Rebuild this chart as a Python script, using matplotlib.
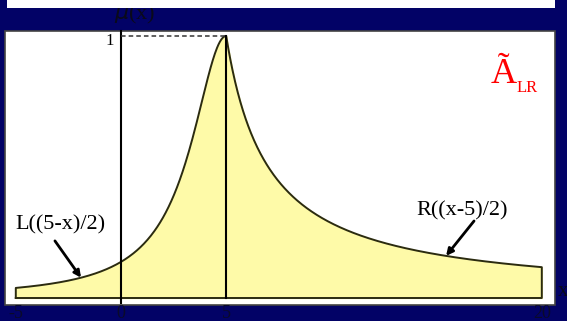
import matplotlib.pyplot as plt
from matplotlib.patches import Rectangle
import numpy as np

# fuzzy number parameters: peak m, left spread alpha, right spread beta
m = 5.0
alpha = 2.0
beta = 2.0
x_lo, x_hi = -5.0, 20.0

tick_vals = [-5, 0, 5, 20]
tick_labels = ["-5", "0", "5", "20"]


def L(u):
    return 1.0 / (1.0 + u ** 2)


def R(u):
    return 1.0 / (1.0 + u)


xl = np.linspace(x_lo, m, 300)
xr = np.linspace(m, x_hi, 600)
x = np.concatenate([xl, xr[1:]])
mu = np.concatenate([L((m - xl) / alpha), R((xr[1:] - m) / beta)])

W, H = 567, 321
navy = "#020266"
fig = plt.figure(figsize=(W / 100, H / 100), dpi=100, facecolor=navy)
plt.rcParams['font.family'] = ['Liberation Serif', 'DejaVu Serif']


def fx(px):
    return px / W


def fy(py):
    return 1 - py / H


# white strip at the top and the white plotting panel
fig.patches.append(Rectangle((fx(7), fy(8)), fx(548), 8 / H,
                             transform=fig.transFigure, facecolor="white",
                             edgecolor="none", zorder=5))
fig.patches.append(Rectangle((fx(5), fy(305)), fx(550), 274 / H,
                             transform=fig.transFigure, facecolor="white",
                             edgecolor="#444444", lw=1.2, zorder=-1))

ax = fig.add_axes([0, 0, 1, 1])
ax.set_facecolor("none")
ax.axis("off")
# map data to pixels: x=0 at px 121 (21.04 px/unit), y=0 at px 298, y=1 at px 36
sx, x0p = 21.04, 121.0
y0p, sy = 298.0, 262.0
ax.set_xlim((0 - x0p) / sx, (W - x0p) / sx)
ax.set_ylim((y0p - H) / sy, y0p / sy)

ax.fill_between(x, 0, mu, color="#fefaa8", zorder=1)
ax.plot(np.r_[x_lo, x, x_hi, x_lo], np.r_[0, mu, 0, 0], color="#2b2b10", lw=1.4, zorder=2)

# vertical axis, peak line and dashed level line
ax.plot([0, 0], [(y0p - 303) / sy, (y0p - 31) / sy], color="black", lw=1.5, zorder=3)
ax.plot([m, m], [0, 1], color="black", lw=1.5, zorder=3)
ax.plot([0, m], [1, 1], color="#333333", lw=1.1, ls=(0, (3, 2)), zorder=3)

ax.text(-0.35, (y0p - 41) / sy, "1", ha="right", va="center", fontsize=12, color="black")

for v, t in zip(tick_vals, tick_labels):
    ax.text(v, (y0p - 305) / sy, t, ha="center", va="top", fontsize=13, color="#0a0a2a")
ax.text((563 - x0p) / sx, (y0p - 292) / sy, "x", ha="center", va="center",
        fontsize=15, color="#0a0a1a")
ax.text((135 - x0p) / sx, (y0p - 14) / sy, r"$\mu$(x)", ha="center", va="center",
        fontsize=16, color="#0a0a1a", zorder=1)

ax.text((491 - x0p) / sx, (y0p - 83) / sy, "Ã", ha="left", va="baseline",
        fontsize=26, color="red")
ax.text((517 - x0p) / sx, (y0p - 92) / sy, "LR", ha="left", va="baseline",
        fontsize=12, color="red")

# branch labels with pointers onto the curve
arrow = dict(arrowstyle="-|>", color="black", lw=2, shrinkA=0, shrinkB=0,
             mutation_scale=10)
ax.text(-2.9, 0.279, "L((5-x)/2)", ha="center", va="center", fontsize=16)
ax.annotate("", xy=(-1.9, L((m + 1.9) / alpha)), xytext=(-3.14, 0.218), arrowprops=arrow)
ax.text(16.2, 0.332, "R((x-5)/2)", ha="center", va="center", fontsize=16)
ax.annotate("", xy=(15.45, R((15.45 - m) / beta)), xytext=(16.78, 0.294), arrowprops=arrow)

fig.savefig("out.png", dpi=100, facecolor=navy)
